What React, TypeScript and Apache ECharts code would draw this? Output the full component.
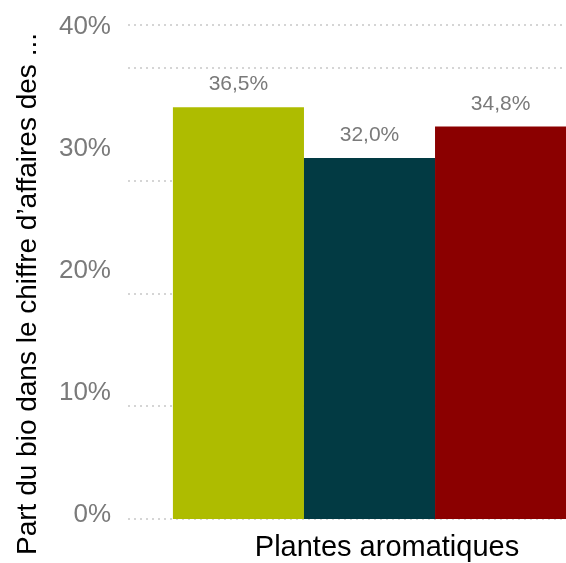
import React, { useEffect, useRef } from "react";
import * as echarts from "echarts";

const categories = ["Plantes aromatiques"];
const seriesNames = ["Série 1", "Série 2", "Série 3"];
const seriesValues = [[36.5], [32.0], [34.8]];
const seriesColors = ["#aebc00", "#023a43", "#8b0000"];
const tickLabels = [0, 10, 20, 30, 40];
const yTitle = "Part du bio dans le chiffre d’affaires des ...";

const FONT = 'Arial, "Liberation Sans", sans-serif';

export default function App() {
  const ref = useRef<HTMLDivElement>(null);
  useEffect(() => {
    const chart = echarts.init(ref.current!, null, { renderer: "svg" });
    chart.setOption({
      animation: false,
      grid: { left: 128, top: 25, height: 494, width: 483, containLabel: false, outerBoundsMode: "none" },
      xAxis: {
        type: "category",
        data: categories,
        axisLine: { show: false },
        axisTick: { show: false },
        axisLabel: { fontSize: 29, color: "#000", fontFamily: FONT, margin: 12, padding: [0, 0, 0, 35] },
      },
      yAxis: [
        {
          type: "value",
          min: 0,
          max: 43.8,
          interval: 10,
          axisLine: { show: false },
          axisTick: { show: false },
          axisLabel: { show: false },
          splitLine: { show: true, lineStyle: { color: "#c8c8c8", width: 1.5, type: [2, 4] } },
        },
        {
          type: "value",
          position: "left",
          min: -0.5,
          max: 40,
          axisLine: { show: false },
          axisTick: { show: false },
          splitLine: { show: false },
          axisLabel: {
            customValues: tickLabels,
            formatter: (v: number) => v + "%",
            fontSize: 26,
            color: "#7a7a7a",
            fontFamily: FONT,
            margin: 17,
          },
          name: yTitle,
          nameLocation: "middle",
          nameGap: 88,
          nameTextStyle: { fontSize: 28, color: "#000", fontFamily: FONT, padding: [0, 44, 0, 0] },
        },
      ],
      series: seriesValues.map((vals, i) => ({
        type: "bar",
        name: seriesNames[i],
        data: vals,
        yAxisIndex: 0,
        barGap: "0%",
        barCategoryGap: "18.6%",
        itemStyle: { color: seriesColors[i] },
        label: {
          show: true,
          position: "top",
          distance: 14,
          fontSize: 21,
          color: "#7a7a7a",
          fontFamily: FONT,
          formatter: (p: any) => p.value.toFixed(1).replace(".", ",") + "%",
        },
      })),
    });
    return () => chart.dispose();
  }, []);
  return <div ref={ref} style={{ position: "fixed", left: 0, top: 0, width: 566, height: 563 }} />;
}
